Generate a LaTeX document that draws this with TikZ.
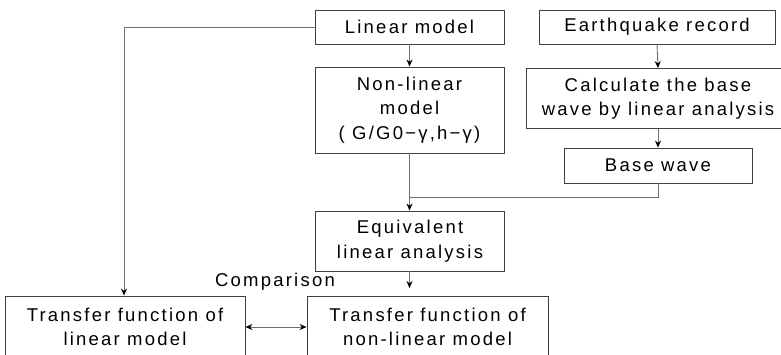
\documentclass[tikz,border=0pt]{standalone}
\usepackage{fontspec}
\setmainfont{Liberation Sans}[LetterSpace=12]
\usetikzlibrary{arrows.meta}
\definecolor{boxc}{HTML}{404040}
\definecolor{linec}{HTML}{707070}
\begin{document}
\begin{tikzpicture}[x=1pt,y=-1pt,
  box/.style={draw=boxc, line width=0.9pt, rectangle, inner sep=0pt, align=center,
    font=\fontsize{18.5}{24.5}\selectfont, text=black},
  conn/.style={draw=linec, line width=0.9pt},
  arr/.style={conn, -{Stealth[length=7pt,width=6pt,color=black]}},
  darr/.style={conn, {Stealth[length=7pt,width=6pt,color=black]}-{Stealth[length=7pt,width=6pt,color=black]}}]
\useasboundingbox (0,0) rectangle (781,354);
\fill[white] (0,0) rectangle (781,354);

\node[box, minimum width=189pt, minimum height=34pt] (lin) at (409.5,27) {Linear model};
\node[box, minimum width=236pt, minimum height=34pt] (eq) at (657,27) {Earthquake record};
\node[box, minimum width=189pt, minimum height=86pt] (nl) at (409.5,110) {Non-linear\\model\\( G/G0−γ,h−γ)};
\node[box, minimum width=264pt, minimum height=60pt] (calc) at (658,98.5) {Calculate the base\\wave by linear analysis};
\node[box, minimum width=188pt, minimum height=35pt] (base) at (658,165.5) {Base wave};
\node[box, minimum width=189pt, minimum height=60pt] (equiv) at (410,241) {Equivalent\\linear analysis};
\node[box, minimum width=240pt, minimum height=62pt] (tl) at (125,327) {Transfer function of\\linear model};
\node[box, minimum width=241pt, minimum height=62pt] (tn) at (427.5,327) {Transfer function of\\non-linear model};
\node[font=\fontsize{18.5}{20}\selectfont, inner sep=0pt] (cmp) at (275,282) {Comparison};

\coordinate (lcorner) at (124,27);
\coordinate (junc) at (409.5,197);
\coordinate (tip) at (409.5,288);

\draw[arr] (lin.west) -- (lcorner) -- (lcorner |- tl.north);
\draw[arr] (lin.south) -- (nl.north);
\draw[arr] (nl.south) -- (nl.south |- equiv.north);
\draw[conn] (base.south) |- (junc);
\draw[arr] (eq.south) -- (calc.north);
\draw[arr] (calc.south) -- (base.north);
\draw[arr] (equiv.south -| tip) -- (tip);
\draw[darr] (tl.east) -- (tn.west);
\end{tikzpicture}
\end{document}
